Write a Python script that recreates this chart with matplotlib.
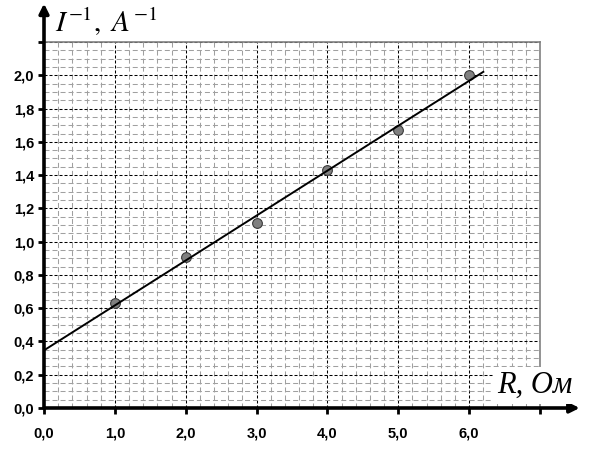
import numpy as np
import matplotlib
matplotlib.use('Agg')
import matplotlib.pyplot as plt
from matplotlib.ticker import MultipleLocator

# measured points: resistance R (Ohm) and inverse current 1/I (1/A)
r_values = [1.0, 2.0, 3.0, 4.0, 5.0, 6.0]
inv_current = [0.63, 0.91, 1.11, 1.43, 1.67, 2.00]

x_ticks = [0, 1, 2, 3, 4, 5, 6, 7]
x_labels = ['0,0', '1,0', '2,0', '3,0', '4,0', '5,0', '6,0', '']
y_ticks = [0.0, 0.2, 0.4, 0.6, 0.8, 1.0, 1.2, 1.4, 1.6, 1.8, 2.0, 2.2]
y_labels = ['0,0', '0,2', '0,4', '0,6', '0,8', '1,0', '1,2', '1,4', '1,6', '1,8', '2,0', '']

# straight-line fit through the points, drawn from R=0 to R=6.2
fit_range = [0.0, 6.2]
slope, intercept = np.polyfit(r_values, inv_current, 1)

plt.rcParams['mathtext.fontset'] = 'stix'

fig = plt.figure(figsize=(5.91, 4.49), dpi=100)
ax = fig.add_axes([44 / 591, 1 - 408 / 449, 496 / 591, 366 / 449])
ax.set_xlim(0, 7)
ax.set_ylim(0, 2.2)

# grid: grey minor dashes, black major dashes
ax.xaxis.set_minor_locator(MultipleLocator(0.2))
ax.yaxis.set_minor_locator(MultipleLocator(0.05))
ax.grid(which='minor', color='#a0a0a0', linestyle=(0, (4.8, 2.9)), linewidth=0.75)
ax.grid(which='major', color='black', linestyle=(0, (2.9, 1.9)), linewidth=0.75)
ax.set_axisbelow(True)

ax.set_xticks(x_ticks)
ax.set_xticklabels(x_labels)
ax.set_yticks(y_ticks)
ax.set_yticklabels(y_labels)
ax.tick_params(which='minor', length=0)
ax.tick_params(which='major', direction='out', length=4, width=2, color='black',
               labelsize=10.5)
ax.tick_params(axis='x', pad=9)
ax.tick_params(axis='y', pad=3)
for lab in ax.get_xticklabels() + ax.get_yticklabels():
    lab.set_fontweight('bold')
    lab.set_fontfamily('Liberation Sans')

for side in ['top', 'right']:
    ax.spines[side].set_color('#808080')
    ax.spines[side].set_linewidth(1.2)
for side in ['left', 'bottom']:
    ax.spines[side].set_visible(False)

# thick axes with arrows
ax.annotate('', xy=(0, 1.105), xytext=(0, 0), xycoords='axes fraction',
            arrowprops=dict(arrowstyle='-|>', color='black', lw=2.6,
                            mutation_scale=14, shrinkA=0, shrinkB=0),
            annotation_clip=False, zorder=5)
ax.annotate('', xy=(1.08, 0), xytext=(0, 0), xycoords='axes fraction',
            arrowprops=dict(arrowstyle='-|>', color='black', lw=2.6,
                            mutation_scale=14, shrinkA=0, shrinkB=0),
            annotation_clip=False, zorder=5)

fx = np.array(fit_range)
ax.plot(r_values, inv_current, 'o', color='#808080', markeredgecolor='#3a3a3a',
        markersize=7, markeredgewidth=0.8, zorder=3)
ax.plot(fx, slope * fx + intercept, color='black', linewidth=1.4, zorder=4)

# axis titles
ax.text(0.022, 1.027, r'$I^{-1},\ A^{-1}$', transform=ax.transAxes, fontsize=21,
        ha='left', va='baseline', clip_on=False)
ax.text(1.065, 0.041, 'R, Ом', transform=ax.transAxes, fontsize=22,
        family='Liberation Serif', style='italic', ha='right', va='baseline',
        bbox=dict(facecolor='white', edgecolor='none', pad=3), clip_on=False, zorder=6)

fig.savefig('out.png', dpi=100)
